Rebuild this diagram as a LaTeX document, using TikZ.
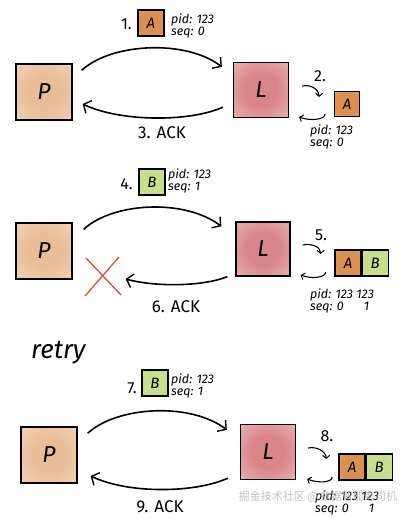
\documentclass[tikz,border=0pt]{standalone}
\usepackage{fontspec}
\setmainfont{Fira Sans}
\newfontfamily\cjk{Noto Sans CJK SC}
\usetikzlibrary{arrows.meta,calc}
\definecolor{pcol}{HTML}{E9BD98}
\definecolor{pout}{HTML}{F6E1CD}
\definecolor{lcol}{HTML}{D9868A}
\definecolor{lout}{HTML}{F1CBCB}
\definecolor{acol}{HTML}{DC9050}
\definecolor{aout}{HTML}{EDC096}
\definecolor{bcol}{HTML}{C9DE8C}
\definecolor{bout}{HTML}{E3EEBF}
\definecolor{xred}{HTML}{D0503E}
\pgfdeclareradialshading{pshade}{\pgfpoint{0bp}{0bp}}{color(0bp)=(pcol); color(15bp)=(pcol); color(50bp)=(pout); color(75bp)=(pout)}
\pgfdeclareradialshading{lshade}{\pgfpoint{0bp}{0bp}}{color(0bp)=(lcol); color(15bp)=(lcol); color(50bp)=(lout); color(75bp)=(lout)}
\pgfdeclareradialshading{ashade}{\pgfpoint{0bp}{0bp}}{color(0bp)=(acol); color(25bp)=(acol); color(50bp)=(aout); color(75bp)=(aout)}
\pgfdeclareradialshading{bshade}{\pgfpoint{0bp}{0bp}}{color(0bp)=(bcol); color(25bp)=(bcol); color(50bp)=(bout); color(75bp)=(bout)}
\tikzset{
  pbox/.style={draw, line width=1.3pt, minimum size=56pt, inner sep=0pt, shade, shading=pshade, font=\fontsize{23}{23}\selectfont\itshape},
  lbox/.style={draw, line width=1.3pt, minimum size=55pt, inner sep=0pt, shade, shading=lshade, font=\fontsize{23}{23}\selectfont\itshape},
  abox/.style={draw, line width=1.1pt, minimum size=26pt, inner sep=0pt, shade, shading=ashade, font=\fontsize{15}{15}\selectfont\itshape},
  bbox/.style={draw, line width=1.1pt, minimum size=26pt, inner sep=0pt, shade, shading=bshade, font=\fontsize{15}{15}\selectfont\itshape},
  info/.style={anchor=west, align=left, inner sep=0pt, font=\fontsize{12.5}{10.5}\selectfont\itshape},
  lbl/.style={inner sep=0pt, font=\fontsize{17}{17}\selectfont},
  num/.style={inner sep=0pt, font=\fontsize{16}{16}\selectfont},
  arr/.style={line width=1.6pt, -{Straight Barb[length=6pt,width=14pt,line width=1.4pt]}},
  curl/.style={line width=1.1pt, -{Straight Barb[length=3pt,width=7pt,line width=1pt]}},
}
\begin{document}
\begin{tikzpicture}[x=1pt,y=-1pt]
\useasboundingbox (0,0) rectangle (414,519);
% ---------- section 1 ----------
\node[pbox] (P1) at (44,92) {P};
\node[lbox] (L1) at (261,90) {L};
\node[abox] (m1) at (151,23) {A};
\node[num, anchor=east] (n1) at (132,24) {1.};
\node[info] (i1) at (171,26) {pid: 123\\seq: 0};
\draw[arr] ($(P1.north east)+(9,7)$) .. controls +(29,-27) and +(-37,-28) .. ($(L1.north west)+(-11,5)$);
\draw[arr] ($(L1.south west)+(-10,-11)$) .. controls +(-33,15) and +(38,18) .. ($(P1.east)+(10,12)$);
\node[lbl] (ack1) at (162,133) {3. ACK};
\node[num] (n2) at (320,76) {2.};
\node[abox, minimum size=25pt] (s1a) at (347,104) {A};
\draw[curl] ($(L1.east)+(13,-4)$) .. controls +(9,-2) and +(0,-7) .. ($(L1.east)+(30,7)$);
\draw[curl] ($(L1.east)+(36,24)$) .. controls +(0,6) and +(10,4) .. ($(L1.east)+(10,27)$);
\node[info] (si1) at (310,137) {pid: 123\\seq: 0};
% ---------- section 2 ----------
\node[pbox] (P2) at (44,251) {P};
\node[lbox, minimum size=54pt] (L2) at (263,249) {L};
\node[bbox] (m2) at (152,182) {B};
\node[num, anchor=east] (n4) at (133,184) {4.};
\node[info] (i2) at (168,181) {pid: 123\\seq: 1};
\draw[arr] ($(P2.north east)+(11,7)$) .. controls +(29,-27) and +(-37,-28) .. ($(L2.north west)+(-14,5)$);
\draw[arr] ($(L2.south west)+(-8,0)$) .. controls +(-25,10) and +(30,8) .. ($(P2.east)+(53,28)$);
\node[lbl] (ack2) at (176,307) {6. ACK};
\coordinate (xc) at (103,277);
\draw[xred, line width=1.3pt] ($(xc)+(-17,-19)$) -- ($(xc)+(18,18)$);
\draw[xred, line width=1.3pt] ($(xc)+(16,-20)$) -- ($(xc)+(-18,19)$);
\node[num] (n5) at (321,235) {5.};
\node[abox] (s2a) at (348,263) {A};
\node[bbox, anchor=west] (s2b) at (s2a.east) {B};
\draw[curl] ($(L2.east)+(12,-4)$) .. controls +(9,-2) and +(0,-7) .. ($(L2.east)+(30,5)$);
\draw[curl] ($(L2.east)+(35,23)$) .. controls +(0,6) and +(10,4) .. ($(L2.east)+(10,26)$);
\node[info] (si2) at (310,301) {pid: 123 123\\seq: 0\phantom{11}\ \ \ 1};
% ---------- section 3 ----------
\node[anchor=west, inner sep=0pt, font=\fontsize{26}{26}\selectfont\itshape] (retry) at (31,353) {retry};
\node[pbox] (P3) at (49,455) {P};
\node[lbox] (L3) at (268,452) {L};
\node[bbox] (m3) at (155,383) {B};
\node[num, anchor=east] (n7) at (137,388) {7.};
\node[info] (i3) at (171,386) {pid: 123\\seq: 1};
\draw[arr] ($(P3.north east)+(10,7)$) .. controls +(29,-27) and +(-37,-28) .. ($(L3.north west)+(-13,6)$);
\draw[arr] ($(L3.south west)+(-12,-2)$) .. controls +(-33,15) and +(38,18) .. ($(P3.east)+(13,21)$);
\node[lbl] (ack3) at (160,507) {9. ACK};
\node[num] (n8) at (327,436) {8.};
\node[abox] (s3a) at (352,467) {A};
\node[bbox, anchor=west] (s3b) at (s3a.east) {B};
\draw[curl] ($(L3.east)+(12,-4)$) .. controls +(9,-2) and +(0,-7) .. ($(L3.east)+(30,7)$);
\draw[curl] ($(L3.east)+(36,25)$) .. controls +(0,6) and +(10,4) .. ($(L3.east)+(11,27)$);
\node[info] (si3) at (315,503) {pid: 123 123\\seq: 0\phantom{11}\ \ \ 1};
\node[inner sep=0pt, text=gray!55, opacity=0.9, font=\cjk\fontsize{11}{11}\selectfont] (wm) at (318,497) {掘金技术社区 @ 数据智能老司机};
\end{tikzpicture}
\end{document}
